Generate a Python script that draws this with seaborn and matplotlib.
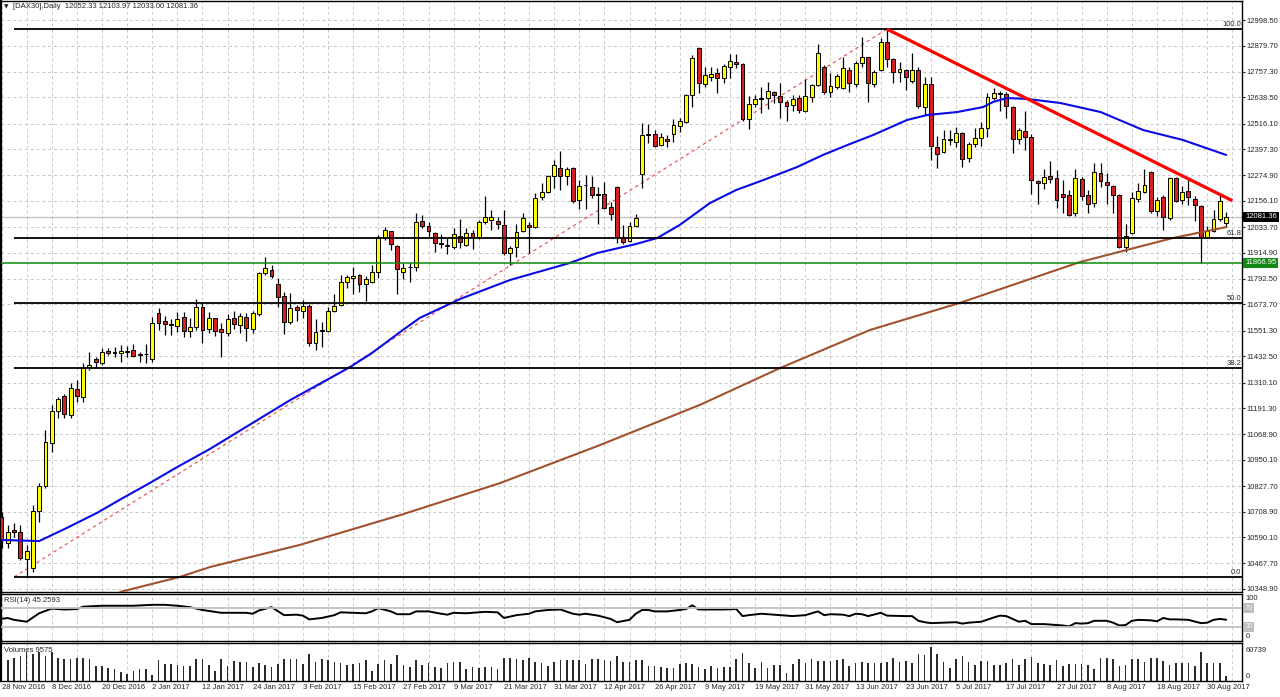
import numpy as np
import pandas as pd
import seaborn as sns
import matplotlib
matplotlib.use("Agg")
import matplotlib.pyplot as plt
import matplotlib.transforms as mtransforms

# daily DAX30 candles, 28 Nov 2016 .. 4 Sep 2017 (one bar per trading day)
opens = [10684, 10562, 10623, 10614, 10488, 10446, 10712, 10828, 11028, 11177,
         11246, 11159, 11278, 11242, 11382, 11419, 11401, 11456, 11452, 11447,
         11456, 11461, 11443, 11443, 11419, 11633, 11596, 11581, 11572, 11615,
         11549, 11567, 11661, 11558, 11610, 11558, 11540, 11610, 11577, 11615,
         11558, 11629, 11819, 11833, 11768, 11713, 11592, 11662, 11642, 11666,
         11493, 11549, 11549, 11642, 11671, 11778, 11796, 11810, 11768, 11778,
         11824, 11983, 12016, 11945, 11824, 11847, 11847, 12062, 12039, 12007,
         11959, 11948, 11941, 11992, 11950, 12007, 11988, 12058, 12067, 12062,
         12044, 11913, 11941, 12016, 12044, 12035, 12173, 12197, 12271, 12308,
         12271, 12308, 12159, 12230, 12221, 12187, 12187, 12127, 12221, 11988,
         11969, 12039, 12281, 12467, 12467, 12416, 12444, 12467, 12505, 12523,
         12648, 12867, 12700, 12733, 12751, 12728, 12779, 12802, 12793, 12537,
         12607, 12634, 12634, 12662, 12644, 12616, 12602, 12634, 12574, 12639,
         12696, 12779, 12662, 12685, 12681, 12765, 12700, 12797, 12825, 12700,
         12765, 12896, 12816, 12756, 12765, 12714, 12765, 12593, 12700, 12407,
         12383, 12444, 12430, 12471, 12355, 12421, 12448, 12495, 12634, 12658,
         12653, 12593, 12444, 12481, 12453, 12248, 12239, 12271, 12262, 12187,
         12183, 12099, 12258, 12183, 12145, 12285, 12244, 12225, 12183, 11941,
         12007, 12164, 12197, 12290, 12109, 12173, 12076, 12262, 12159, 12201,
         12164, 12132, 11988, 12016, 12072, 12052.33]
highs = [10707, 10646, 10655, 10646, 10553, 10740, 10842, 11089, 11205, 11242,
         11255, 11307, 11321, 11401, 11452, 11429, 11470, 11470, 11475, 11484,
         11479, 11489, 11452, 11489, 11615, 11657, 11619, 11604, 11638, 11638,
         11610, 11699, 11679, 11638, 11613, 11586, 11629, 11642, 11633, 11633,
         11642, 11824, 11895, 11857, 11796, 11732, 11727, 11671, 11695, 11675,
         11604, 11592, 11662, 11722, 11810, 11810, 11847, 11814, 11805, 11857,
         11998, 12035, 12018, 11950, 11866, 11866, 12099, 12090, 12058, 12012,
         12001, 11983, 12030, 12072, 12030, 12021, 12067, 12178, 12113, 12081,
         12113, 11945, 12048, 12099, 12058, 12192, 12239, 12276, 12345, 12387,
         12313, 12313, 12253, 12276, 12271, 12221, 12244, 12150, 12225, 12044,
         12058, 12095, 12519, 12514, 12485, 12471, 12462, 12537, 12542, 12653,
         12834, 12872, 12779, 12779, 12774, 12793, 12839, 12839, 12797, 12644,
         12648, 12685, 12710, 12667, 12705, 12625, 12648, 12648, 12723, 12700,
         12885, 12788, 12751, 12747, 12825, 12779, 12807, 12919, 12828, 12765,
         12914, 12956, 12821, 12802, 12770, 12844, 12779, 12733, 12733, 12458,
         12485, 12485, 12499, 12476, 12430, 12495, 12523, 12658, 12681, 12667,
         12662, 12597, 12495, 12574, 12467, 12253, 12304, 12341, 12299, 12253,
         12207, 12304, 12267, 12207, 12332, 12332, 12285, 12230, 12186, 12048,
         12197, 12239, 12304, 12293, 12173, 12183, 12267, 12267, 12225, 12253,
         12178, 12136, 12039, 12113, 12183, 12103.97]
lows = [10539, 10539, 10591, 10483, 10405, 10428, 10660, 10819, 10986, 11145,
        11145, 11145, 11219, 11219, 11368, 11382, 11392, 11438, 11429, 11406,
        11429, 11429, 11406, 11401, 11406, 11554, 11531, 11531, 11545, 11521,
        11521, 11554, 11493, 11540, 11526, 11429, 11526, 11558, 11540, 11502,
        11540, 11619, 11810, 11796, 11662, 11535, 11581, 11596, 11610, 11479,
        11461, 11475, 11545, 11638, 11666, 11750, 11722, 11732, 11689, 11773,
        11796, 11973, 11927, 11722, 11791, 11778, 11829, 12030, 11988, 11918,
        11936, 11908, 11931, 11936, 11945, 11931, 11978, 12048, 12021, 12025,
        11904, 11857, 11895, 12012, 11913, 12030, 12159, 12192, 12216, 12207,
        12230, 12145, 12118, 12118, 12169, 12048, 12120, 12067, 11959, 11954,
        11964, 12035, 12216, 12425, 12409, 12411, 12407, 12430, 12476, 12519,
        12593, 12658, 12685, 12714, 12658, 12705, 12728, 12774, 12528, 12490,
        12593, 12565, 12584, 12611, 12542, 12528, 12574, 12565, 12570, 12616,
        12691, 12653, 12639, 12676, 12676, 12662, 12685, 12779, 12616, 12685,
        12760, 12779, 12705, 12710, 12671, 12705, 12588, 12556, 12345, 12308,
        12378, 12416, 12407, 12313, 12336, 12407, 12411, 12453, 12625, 12574,
        12542, 12378, 12421, 12393, 12188, 12141, 12211, 12239, 12122, 12099,
        12085, 12085, 12159, 12099, 12127, 12221, 12141, 12099, 11936, 11918,
        12004, 12150, 12192, 12099, 12085, 12021, 12067, 12150, 12141, 12136,
        12062, 11866.95, 11983, 12012, 12062, 12033.00]
closes = [10576, 10614, 10614, 10493, 10525, 10712, 10828, 11033, 11177, 11232,
          11163, 11283, 11246, 11377, 11392, 11406, 11452, 11447, 11450, 11456,
          11454, 11433, 11440, 11445, 11586, 11586, 11581, 11579, 11604, 11549,
          11567, 11661, 11554, 11610, 11549, 11545, 11605, 11581, 11619, 11563,
          11633, 11819, 11843, 11805, 11709, 11592, 11657, 11647, 11666, 11493,
          11545, 11554, 11642, 11666, 11778, 11801, 11805, 11768, 11791, 11824,
          11983, 12021, 11954, 11838, 11843, 11849, 12058, 12039, 12016, 11959,
          11957, 11952, 12001, 11964, 12007, 11988, 12058, 12081, 12081, 12048,
          11913, 11936, 12012, 12076, 12035, 12169, 12197, 12271, 12322, 12271,
          12304, 12155, 12225, 12232, 12183, 12185, 12122, 12095, 11988, 11964,
          12039, 12076, 12462, 12465, 12411, 12453, 12434, 12509, 12528, 12648,
          12821, 12705, 12742, 12747, 12728, 12783, 12807, 12793, 12537, 12607,
          12630, 12632, 12667, 12648, 12616, 12597, 12630, 12579, 12644, 12696,
          12844, 12662, 12691, 12737, 12774, 12705, 12797, 12825, 12705, 12756,
          12896, 12816, 12756, 12770, 12733, 12765, 12597, 12700, 12411, 12373,
          12444, 12442, 12471, 12350, 12421, 12448, 12495, 12639, 12658, 12653,
          12597, 12444, 12485, 12453, 12253, 12239, 12267, 12258, 12159, 12173,
          12090, 12262, 12178, 12141, 12290, 12248, 12230, 12183, 11941, 11992,
          12169, 12201, 12230, 12109, 12159, 12081, 12262, 12155, 12197, 12173,
          12136, 11988, 12016, 12072, 12155, 12081.36]
volumes = [39500, 36400, 41300, 43700, 51600, 48600, 51600, 43700, 51600, 41300,
           38300, 38300, 40700, 40700, 39500, 27300, 27300, 23100, 21300, 16400,
           12100, 18200, 21300, 21300, 10900, 37700, 30400, 30400, 29200, 27300,
           27300, 39500, 39500, 29200, 18200, 38300, 27300, 35200, 33400, 33400,
           25500, 31600, 29200, 25500, 30400, 38300, 39500, 38300, 30400, 47400,
           33400, 39500, 36400, 33400, 31600, 29200, 30400, 31600, 37700, 18200,
           30400, 37700, 30400, 45600, 29200, 25500, 36400, 29200, 31600, 24300,
           23100, 31600, 33400, 33400, 21300, 25500, 23100, 25500, 25500, 21300,
           41300, 41300, 38300, 36400, 41300, 33400, 31600, 27300, 33400, 36400,
           36400, 36400, 37700, 30400, 39500, 39500, 37700, 35200, 43700, 33400,
           33400, 37700, 37700, 27300, 27300, 24300, 23100, 23100, 30400, 31600,
           30400, 25500, 21300, 27300, 23100, 24300, 25500, 39500, 49800, 31600,
           23100, 33400, 23100, 29200, 29200, 13400, 30400, 39500, 31600, 39500,
           35200, 34600, 34600, 37700, 38300, 26100, 32200, 33400, 31600, 31600,
           32100, 33900, 40000, 32900, 35200, 31000, 47700, 45400, 60739, 47100,
           32900, 23900, 38200, 44600, 33900, 28000, 35200, 35200, 28000, 28000,
           31000, 39500, 28500, 38300, 42500, 32200, 30400, 29200, 37700, 27300,
           30400, 30400, 30400, 29200, 21300, 40700, 41300, 39500, 27300, 28500,
           39500, 39500, 33400, 41000, 41000, 36000, 28500, 31600, 31600, 31600,
           26300, 51000, 31600, 31600, 31600, 9575]

# moving averages (bar index, price)
ma_blue_idx = [0, 6, 10.4, 15.2, 19.3, 23.6, 28, 33.2, 46, 55.5, 59, 63.5, 66.6,
               73, 81, 90.5, 94.8, 101, 104.4, 108, 112.8, 117, 121.3, 126.7, 130.8,
               135.1, 138.8, 144.2, 147.4, 152.2, 156.3, 157.9, 160.1, 163.3, 168.6,
               175, 181.8, 188.1, 195]
ma_blue_val = [10577, 10572, 10633, 10703, 10772, 10842, 10917, 11001, 11229,
               11382, 11448, 11546, 11611, 11699, 11788, 11867, 11913, 11955, 11983,
               12044, 12146, 12207, 12253, 12314, 12370, 12421, 12463, 12533, 12556,
               12570, 12593, 12617, 12635, 12631, 12612, 12570, 12486, 12440, 12370]
ma_brown_idx = [18.9, 28.4, 33.2, 47.5, 63.5, 79.4, 95.3, 111.2, 124, 138.3, 152.6,
                171.7, 186.5, 195]
ma_brown_val = [10335, 10405, 10451, 10554, 10693, 10842, 11019, 11206, 11378, 11555,
                11681, 11871, 11983, 12034]

# RSI(14)
rsi_idx = [0, 1, 2, 4, 5, 6, 8, 10, 12, 13, 16, 21, 24, 26, 28, 30, 32, 33, 35, 39,
           40, 41, 43, 45, 47, 48, 49, 51, 53, 54, 56, 58, 59, 60, 62, 63, 65, 66, 68,
           70, 71, 72, 74, 77, 79, 80, 82, 84, 85, 87, 89, 91, 92, 93, 95, 97, 98, 100,
           101, 102, 103, 104, 106, 108, 109, 110, 111, 115, 117, 118, 119, 121, 124,
           126, 128, 129, 130, 131, 132, 134, 135, 136, 137, 138, 140, 141, 144, 145,
           146, 147, 148, 150, 152, 153, 154, 156, 158, 159, 160, 161, 162, 163, 164,
           166, 169, 170, 171, 172, 173, 174, 176, 177, 178, 179, 180, 181, 183, 184,
           185, 186, 187, 189, 191, 192, 193, 194, 195]
rsi_val = [47, 49, 45, 41, 50, 59, 69, 67, 68, 73, 75, 75, 77, 77, 75, 72, 66, 64, 60, 60,
           58, 65, 72, 55, 56, 54, 46, 49, 55, 61, 60, 59, 63, 70, 63, 57, 57, 63, 63,
           58, 56, 60, 59, 62, 61, 49, 55, 58, 63, 66, 67, 58, 56, 58, 54, 47, 40, 45,
           58, 66, 66, 63, 63, 66, 68, 76, 67, 67, 68, 53, 55, 58, 55,
           53, 55, 59, 63, 55, 57, 56, 53, 58, 57, 53, 60, 54, 53, 53,
           43, 40, 38, 39, 40, 37, 39, 41, 50, 54, 53, 47, 41, 43, 36,
           36, 33, 31, 38, 37, 38, 43, 43, 39, 33, 34, 43, 45, 44, 42,
           49, 46, 46, 45, 38, 39, 45, 47, 45.26]

# drawn objects
fib_names = ["0.0", "38.2", "50.0", "61.8", "100.0"]
fib_prices = [10405, 11380, 11681, 11982, 12957]
fib_start = 2
trend_idx = [141, 196]
trend_val = [12956, 12157]
fib_trend_idx = [2, 141]
fib_trend_val = [10405, 12956]
support_level = 11866.95
bid_price = 12081.36

price_ticks = [12998.50, 12879.70, 12757.30, 12638.50, 12516.10, 12397.30, 12274.90,
               12156.10, 12033.70, 11914.90, 11792.50, 11673.70, 11551.30, 11432.50,
               11310.10, 11191.30, 11068.90, 10950.10, 10827.70, 10708.90, 10590.10,
               10467.70, 10348.90]
date_labels = ["28 Nov 2016", "8 Dec 2016", "20 Dec 2016", "2 Jan 2017", "12 Jan 2017",
               "24 Jan 2017", "3 Feb 2017", "15 Feb 2017", "27 Feb 2017", "9 Mar 2017",
               "21 Mar 2017", "31 Mar 2017", "12 Apr 2017", "26 Apr 2017", "9 May 2017",
               "19 May 2017", "31 May 2017", "13 Jun 2017", "23 Jun 2017", "5 Jul 2017",
               "17 Jul 2017", "27 Jul 2017", "8 Aug 2017", "18 Aug 2017", "30 Aug 2017"]

sns.set_style("white")
plt.rcParams['font.family'] = ['Liberation Sans', 'DejaVu Sans']
FS = 5.5

W, H = 1280, 697
fig = plt.figure(figsize=(W / 100, H / 100), dpi=100)
fig.patch.set_facecolor('white')


def px_axes(x0, y0, x1, y1):
    return fig.add_axes([x0 / W, 1 - y1 / H, (x1 - x0) / W, (y1 - y0) / H])


ax = px_axes(1, 1, 1242, 592)
ax_rsi = px_axes(1, 594, 1242, 641)
ax_vol = px_axes(1, 643, 1242, 681)

bars = pd.DataFrame({'open': opens, 'high': highs, 'low': lows, 'close': closes,
                     'volume': volumes})
bars['idx'] = np.arange(len(bars))
up = bars['close'] >= bars['open']
xmin, xmax = -0.08, 197.53
grid_x = np.arange(0, 198, 4)
grid_kw = dict(color='#C8C8C8', linestyle=(0, (3, 3)), linewidth=0.7)

for a in (ax, ax_rsi, ax_vol):
    a.set_xlim(xmin, xmax)
    a.set_xticks(grid_x, minor=True)
    a.grid(which='minor', axis='x', **grid_kw)
    a.tick_params(which='minor', length=0)
    for s in a.spines.values():
        s.set_color('black')
        s.set_linewidth(1.0)
    a.spines['left'].set_linewidth(1.6)
    a.set_axisbelow(True)

# ---- main price panel
ax.set_ylim(10334.7, 13087.0)
ax.axhline(bid_price, color='#C0C0C0', lw=0.9, zorder=1)
ax.plot(fib_trend_idx, fib_trend_val, color='#E84A4A', lw=0.8,
        linestyle=(0, (3, 3)), zorder=2)

ax.vlines(bars['idx'], bars['low'], bars['high'], color='black', lw=0.9, zorder=3)
body_lo = np.minimum(bars['open'], bars['close'])
body_h = np.maximum((bars['close'] - bars['open']).abs(), 1.0)
ax.bar(bars['idx'], body_h, bottom=body_lo, width=0.62,
       color=np.where(up, '#FFFF00', '#D42020'), edgecolor='black',
       linewidth=0.7, zorder=4)

sns.lineplot(x=ma_blue_idx, y=ma_blue_val, ax=ax, color='#0A0AE6', linewidth=1.5,
             zorder=5)
sns.lineplot(x=ma_brown_idx, y=ma_brown_val, ax=ax, color='#A0522D', linewidth=1.5,
             zorder=5)

for name, price in zip(fib_names, fib_prices):
    ax.hlines(price, fib_start, xmax, colors='black', lw=1.3, zorder=6)
    ax.annotate(name, xy=(197.4, price), xytext=(0, 0.6), textcoords='offset points',
                ha='right', va='bottom', fontsize=FS, zorder=8)

ax.axhline(support_level, color='#0A8A0A', lw=1.1, zorder=6)
ax.plot(trend_idx, trend_val, color='#FF0000', lw=2.3, solid_capstyle='butt', zorder=7)

ax.set_yticks(price_ticks)
ax.set_yticklabels([f"{v:.2f}" for v in price_ticks])
ax.yaxis.tick_right()
ax.tick_params(axis='y', which='major', direction='out', length=2.2, width=0.8,
               pad=1.0, labelsize=FS)
ax.grid(which='major', axis='y', **grid_kw)
ax.set_xticks([])
ax.set_xlabel('')
ax.set_ylabel('')

trans = mtransforms.blended_transform_factory(ax.transAxes, ax.transData)
for txt, price, fc in ((f"{bid_price:.2f}", bid_price, 'black'),
                       (f"{support_level:.2f}", support_level, '#128A12')):
    ax.annotate(txt, xy=(1, price), xycoords=trans, xytext=(2.4, 0),
                textcoords='offset points', ha='left', va='center', fontsize=FS,
                color='white', annotation_clip=False, zorder=10,
                bbox=dict(boxstyle='square,pad=0.25', fc=fc, ec='none'))

fig.text(4 / W, 1 - 7 / H, "\u25bc", fontsize=4.2, family='DejaVu Sans', va='center')
fig.text(13 / W, 1 - 7 / H, "[DAX30],Daily  12052.33 12103.97 12033.00 12081.36",
         fontsize=FS, va='center')

# ---- RSI panel
ax_rsi.set_ylim(0, 100)
sns.lineplot(x=rsi_idx, y=rsi_val, ax=ax_rsi, color='black', linewidth=1.4, zorder=3)
for lvl in (70, 30):
    ax_rsi.axhline(lvl, color='#C0C0C0', lw=1.3, zorder=4)
ax_rsi.set_yticks([])
ax_rsi.set_xticks([])
ax_rsi.set_xlabel('')
ax_rsi.set_ylabel('')
rtrans = mtransforms.blended_transform_factory(ax_rsi.transAxes, ax_rsi.transData)
ax_rsi.annotate("100", xy=(1, 100), xycoords=rtrans, xytext=(2.4, -0.8),
                textcoords='offset points', ha='left', va='top', fontsize=FS,
                annotation_clip=False)
ax_rsi.annotate("0", xy=(1, 0), xycoords=rtrans, xytext=(2.4, 0.8),
                textcoords='offset points', ha='left', va='bottom', fontsize=FS,
                annotation_clip=False)
for lvl in (70, 30):
    ax_rsi.annotate(str(lvl), xy=(1, lvl), xycoords=rtrans, xytext=(1.8, 0),
                    textcoords='offset points', ha='left', va='center', fontsize=FS,
                    color='#F4F4F4', annotation_clip=False,
                    bbox=dict(boxstyle='square,pad=0.2', fc='#BDBDBD', ec='none'))
fig.text(4 / W, 1 - 600 / H, "RSI(14) 45.2593", fontsize=FS, va='center')

# ---- volume panel
sns.barplot(x=bars['idx'], y=bars['volume'], ax=ax_vol, native_scale=True, width=0.26,
            color='#2A2A2A', saturation=1, linewidth=0, errorbar=None)
ax_vol.set_xlim(xmin, xmax)
ax_vol.set_ylim(0, 67300)
ax_vol.set_yticks([])
ax_vol.set_xlabel('')
ax_vol.set_ylabel('')
ax_vol.set_xticks(np.arange(0, 193, 8))
ax_vol.set_xticklabels(date_labels, ha='left')
ax_vol.tick_params(axis='x', which='major', direction='inout', length=4, width=0.8,
                   pad=0.5, labelsize=FS)
vtrans = mtransforms.blended_transform_factory(ax_vol.transAxes, ax_vol.transData)
ax_vol.annotate("60739", xy=(1, 60739), xycoords=vtrans, xytext=(2.4, 0),
                textcoords='offset points', ha='left', va='top', fontsize=FS,
                annotation_clip=False)
ax_vol.annotate("0", xy=(1, 0), xycoords=vtrans, xytext=(2.4, 0.8),
                textcoords='offset points', ha='left', va='bottom', fontsize=FS,
                annotation_clip=False)
fig.text(4 / W, 1 - 650 / H, "Volumes 9575", fontsize=FS, va='center')

fig.savefig("out.png", dpi=100, facecolor='white')
